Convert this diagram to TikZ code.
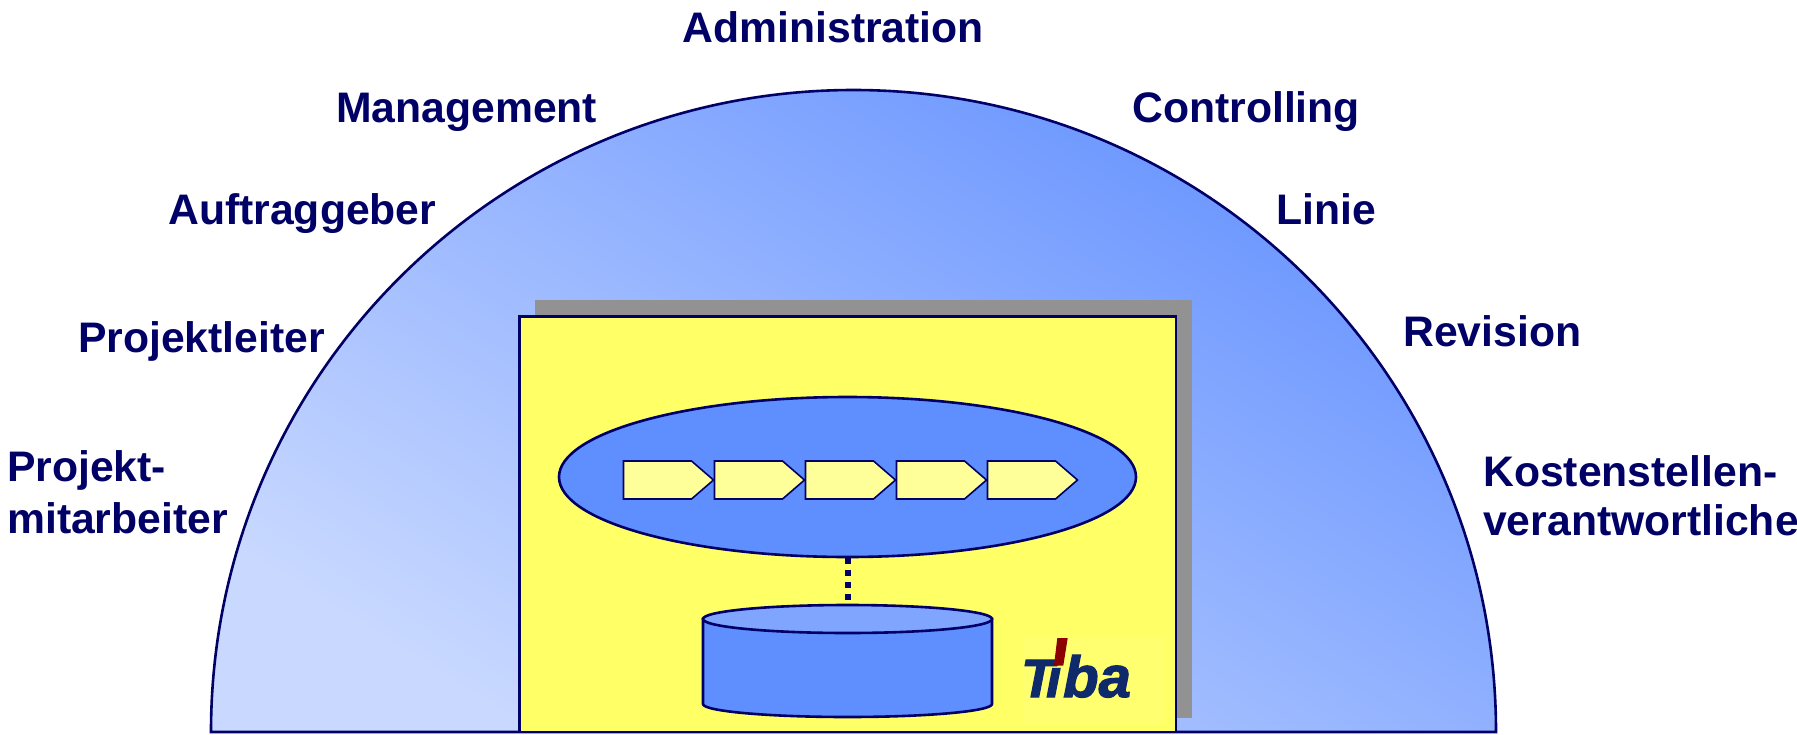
\documentclass[tikz,border=0pt]{standalone}
\usepackage{fontspec}
\setmainfont{Liberation Sans}
\newfontfamily\logofont[FakeBold=2.2,BoldFont={Liberation Sans Bold},ItalicFont={Liberation Sans Bold Italic}]{Liberation Sans Bold Italic}
\usetikzlibrary{shapes.geometric}
\definecolor{navy}{HTML}{000066}
\definecolor{midblue}{HTML}{5F8EFF}
\definecolor{domeblue}{HTML}{6894FF}
\definecolor{topblue}{HTML}{80A5FF}
\definecolor{lightblue}{HTML}{C8D8FF}
\definecolor{sunny}{HTML}{FFFF66}
\definecolor{pale}{HTML}{FFFF99}
\definecolor{logobg}{HTML}{FFFF70}
\definecolor{logoblue}{HTML}{0F2A6B}
\definecolor{logored}{HTML}{8B0000}
\definecolor{shadowgray}{HTML}{929292}
\tikzset{
  x=1pt,y=-1pt,
  lab/.style={anchor=base west,inner sep=0pt,text=navy,font=\fontsize{42.7}{42.7}\selectfont\bfseries},
  outline/.style={draw=navy,line width=2.6pt},
  thinoutline/.style={draw=navy,line width=2.2pt},
  procstep/.style={draw=navy,line width=1.6pt,fill=pale,line join=miter},
  link/.style={draw=navy,line width=6pt,dash pattern=on 6pt off 6pt},
  logoletters/.style={anchor=base west,inner sep=0pt,text=logoblue,font=\logofont\fontsize{54}{54}\selectfont},
  logowide/.style={anchor=base west,inner sep=0pt,text=logoblue,font=\logofont\fontsize{58}{58}\selectfont},
}
\newcommand{\procshape}[2]{%
  \draw[procstep] (#1,461) -- ++(68,0) -- ++(22,19) -- ++(-22,19) -- ++(-68,0) -- cycle;
  \coordinate (#2) at (#1,480);
}
\begin{document}
\begin{tikzpicture}
\useasboundingbox (0,0) rectangle (1797,734);
\clip (0,0) rectangle (1797,734);
% dome
\begin{scope}
  \clip (211,732) arc[start angle=180,end angle=0,x radius=642.5,y radius=-642] -- cycle;
  \shade[shading=axis,bottom color=lightblue,top color=domeblue,middle color=lightblue!50!domeblue,shading angle=-32] (211,90) rectangle (1496,732);
\end{scope}
\draw[outline] (211,732) arc[start angle=180,end angle=0,x radius=642.5,y radius=-642] -- cycle;
% sheet
\fill[shadowgray] (535,300) rectangle (1192,718);
\node[rectangle,thinoutline,fill=sunny,minimum width=656.5pt,minimum height=415.5pt,inner sep=0pt,outer sep=0pt,anchor=north west] (sheet) at (519.5,316.5) {};
% process ellipse
\node[ellipse,outline,fill=midblue,minimum width=577pt,minimum height=160pt,inner sep=0pt] (proc) at (847.5,477) {};
\procshape{623.5}{s1}\procshape{714.5}{s2}\procshape{805.5}{s3}\procshape{896.5}{s4}\procshape{987.5}{s5}
% cylinder
\draw[outline,fill=midblue] (703,619) -- (703,704) arc[start angle=180,end angle=360,x radius=144.5,y radius=-13] -- (992,619) -- cycle;
\node[ellipse,outline,fill=topblue,minimum width=289pt,minimum height=28pt,inner sep=0pt] (dbtop) at (847.5,619) {};
\draw[link] (proc.south) -- (dbtop.north);
% logo
\node[rectangle,fill=logobg,minimum width=140pt,minimum height=86pt,inner sep=0pt,anchor=north west] (logo) at (1023,638) {};
\node[logoletters] (logoT) at (1021,697) {T};
\node[logoletters] (logoi) at (1046,697) {ı};
\node[logowide] (logoba) at (1063,697) {ba};
\fill[logored] (1057.3,638) -- (1067.7,638) -- (1063.3,665.5) -- (1054,665.5) -- cycle;
% labels
\node[lab] (l1) at (682.5,42) {Administration};
\node[lab] (l2) at (336,122) {Management};
\node[lab] (l3) at (1132,122) {Controlling};
\node[lab] (l4) at (168,224) {Auftraggeber};
\node[lab] (l5) at (1276,224) {Linie};
\node[lab] (l6) at (78,352) {Projektleiter};
\node[lab] (l7) at (1403,346) {Revision};
\node[lab] (l8) at (7,481) {Projekt-};
\node[lab] (l9) at (7,533) {mitarbeiter};
\node[lab] (l10) at (1483,486) {Kostenstellen-};
\node[lab] (l11) at (1483,535) {verantwortliche};
\end{tikzpicture}
\end{document}
